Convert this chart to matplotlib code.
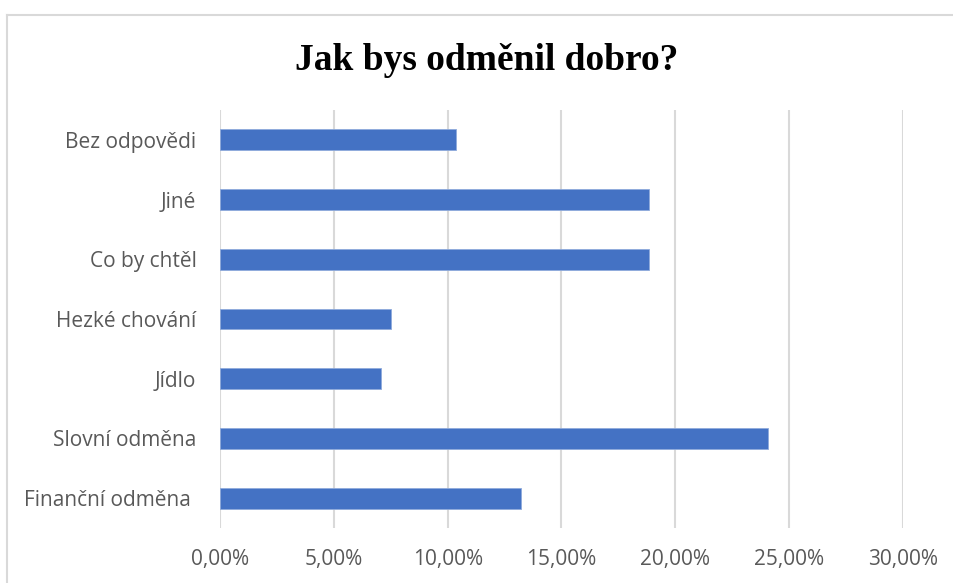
import matplotlib

matplotlib.use("Agg")
import matplotlib.pyplot as plt
from matplotlib.lines import Line2D
from matplotlib.ticker import FuncFormatter

# odpovědi a podíly (v %)
kategorie = [
    "Finanční odměna ",
    "Slovní odměna",
    "Jídlo",
    "Hezké chování",
    "Co by chtěl",
    "Jiné",
    "Bez odpovědi",
]
podily = [13.2, 24.05, 7.05, 7.52, 18.85, 18.85, 10.37]
x_ticks = [0, 5, 10, 15, 20, 25, 30]

BAR = "#4472C4"
GRID = "#d9d9d9"
TEXT = "#595959"

fig = plt.figure(figsize=(9.54, 5.83), dpi=100)
ax = fig.add_axes([220 / 954, 1 - 528 / 583, (903 - 220) / 954, (528 - 110) / 583])

ax.barh(range(len(kategorie)), podily, height=0.35, color=BAR,
        edgecolor="#8faadc", linewidth=0.6, zorder=3)

ax.set_xlim(0, 30)
ax.set_ylim(-0.5, len(kategorie) - 0.5)
ax.set_xticks(x_ticks)
ax.xaxis.set_major_formatter(FuncFormatter(lambda v, _: f"{v:.2f}%".replace(".", ",")))
ax.set_yticks(range(len(kategorie)))
ax.set_yticklabels(kategorie)

ax.grid(axis="x", color=GRID, linewidth=1.5, zorder=0)
for s in ax.spines.values():
    s.set_visible(False)
ax.tick_params(axis="both", length=0, colors=TEXT, labelsize=15)
ax.tick_params(axis="y", pad=17)
ax.tick_params(axis="x", pad=15)
for lab in ax.get_xticklabels() + ax.get_yticklabels():
    lab.set_fontfamily("Open Sans")

fig.text(487 / 954, 1 - 61 / 583, "Jak bys odměnil dobro?", ha="center", va="center",
         fontsize=27, fontweight="bold", family="Liberation Serif", color="black")

# rámeček grafu
fig.add_artist(Line2D([7 / 954, 7 / 954], [0, 1 - 15 / 583], color=GRID, linewidth=1.5))
fig.add_artist(Line2D([7 / 954, 1], [1 - 15 / 583, 1 - 15 / 583], color=GRID, linewidth=1.5))

fig.savefig("out.png", dpi=100, facecolor="white")
